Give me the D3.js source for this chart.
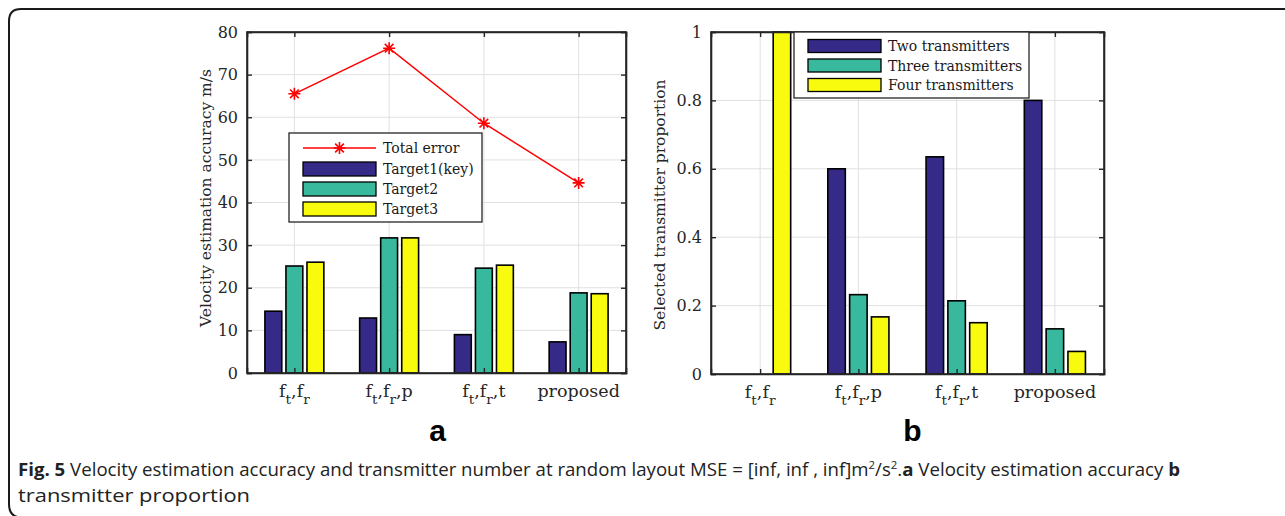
<!DOCTYPE html>
<html>
<head>
<meta charset="utf-8">
<script src="https://d3js.org/d3.v7.min.js"></script>
<style>
  body { margin: 0; background: #fff; }
  svg { display: block; }
</style>
</head>
<body>
<script>
var width = 1285,
    height = 516;

// data
var categories = ["f_t,f_r", "f_t,f_r,p", "f_t,f_r,t", "proposed"];

var target1 = [14.5, 12.9, 9.0, 7.3];
var target2 = [25.1, 31.7, 24.6, 18.8];
var target3 = [26.0, 31.7, 25.3, 18.6];
var totalError = [65.5, 76.2, 58.6, 44.6];

var twoTx = [0, 0.6, 0.635, 0.8];
var threeTx = [0, 0.232, 0.214, 0.132];
var fourTx = [1, 0.167, 0.15, 0.066];

var ticksA = [0, 10, 20, 30, 40, 50, 60, 70, 80];
var ticksB = [0, 0.2, 0.4, 0.6, 0.8, 1];

var namesA = ["Target1(key)", "Target2", "Target3"];
var namesB = ["Two transmitters", "Three transmitters", "Four transmitters"];

var colors = ["#352a87", "#38b99e", "#f9fb0e"];
var serif = "'DejaVu Serif', serif";

var svg = d3.select("body").append("svg")
    .attr("width", width)
    .attr("height", height);

// rounded frame around the figure (bottom edge falls just off the page)
svg.append("path")
    .attr("d", "M1290,9 H21 Q9,9 9,21 V504 Q9,517.5 22,517.5 H1290")
    .attr("fill", "none")
    .attr("stroke", "#1a1a1a")
    .attr("stroke-width", 2);

function texLabel(sel, str) {
  // "f_t" -> f with subscript t
  var parts = [], i = 0;
  while (i < str.length) {
    if (str[i] == "_") { parts.push({t: str[i + 1], sub: true}); i += 2; }
    else { parts.push({t: str[i], sub: false}); i++; }
  }
  var prevSub = false;
  parts.forEach(function(p) {
    var dy = 0;
    if (p.sub && !prevSub) dy = 7;
    if (!p.sub && prevSub) dy = -7;
    sel.append("tspan")
        .attr("dy", dy)
        .attr("font-size", p.sub ? "0.78em" : null)
        .text(p.t);
    prevSub = p.sub;
  });
}

function panel(cfg) {
  var x = d3.scaleLinear().domain([0.5, 4.5]).range([cfg.left, cfg.right]);
  var y = d3.scaleLinear().domain(cfg.domain).range([cfg.bottom, cfg.top]);
  var g = svg.append("g");

  // grid
  g.selectAll(".gy").data(cfg.ticks).enter().append("line")
      .attr("x1", cfg.left).attr("x2", cfg.right)
      .attr("y1", function(d) { return y(d); }).attr("y2", function(d) { return y(d); })
      .attr("stroke", "#e0e0e0").attr("stroke-width", 1);
  g.selectAll(".gx").data(categories).enter().append("line")
      .attr("x1", function(d, i) { return x(i + 1); }).attr("x2", function(d, i) { return x(i + 1); })
      .attr("y1", cfg.top).attr("y2", cfg.bottom)
      .attr("stroke", "#e0e0e0").attr("stroke-width", 1);

  // bars
  var bw = x(1.178) - x(1);
  cfg.series.forEach(function(s, k) {
    var off = (k - 1) * 0.222;
    g.selectAll(".bar" + k).data(s).enter().append("rect")
        .attr("x", function(d, i) { return x(i + 1 + off) - bw / 2; })
        .attr("y", function(d) { return y(d); })
        .attr("width", bw)
        .attr("height", function(d) { return y(0) - y(d); })
        .attr("fill", colors[k])
        .attr("stroke", "#000")
        .attr("stroke-width", 1.6);
  });

  // axes (box, ticks inward)
  var yAxis = d3.axisLeft(y).tickValues(cfg.ticks).tickSize(-5).tickPadding(9)
      .tickFormat(function(d) { return d3.format("~g")(d); });
  var yAxisR = d3.axisRight(y).tickValues(cfg.ticks).tickSize(-5).tickFormat("");
  var xAxis = d3.axisBottom(x).tickValues([1, 2, 3, 4]).tickSize(-5).tickFormat("");
  var xAxisT = d3.axisTop(x).tickValues([1, 2, 3, 4]).tickSize(-5).tickFormat("");

  var ax = g.append("g").attr("transform", "translate(" + cfg.left + ",0)").call(yAxis);
  g.append("g").attr("transform", "translate(" + cfg.right + ",0)").call(yAxisR);
  g.append("g").attr("transform", "translate(0," + cfg.bottom + ")").call(xAxis);
  g.append("g").attr("transform", "translate(0," + cfg.top + ")").call(xAxisT);
  g.selectAll(".domain").attr("stroke", "#262626").attr("stroke-width", 1.6);
  g.selectAll(".tick line").attr("stroke", "#262626").attr("stroke-width", 1.4);
  ax.selectAll("text")
      .attr("font-family", serif).attr("font-size", 16).attr("fill", "#262626");
  g.append("rect")
      .attr("x", cfg.left).attr("y", cfg.top)
      .attr("width", cfg.right - cfg.left).attr("height", cfg.bottom - cfg.top)
      .attr("fill", "none").attr("stroke", "#262626").attr("stroke-width", 1.6);

  // category labels
  categories.forEach(function(c, i) {
    var t = g.append("text")
        .attr("x", x(i + 1)).attr("y", cfg.bottom + 24)
        .attr("text-anchor", "middle")
        .attr("font-family", serif).attr("font-size", 17.5)
        .attr("fill", "#262626");
    texLabel(t, c);
  });

  // y label
  g.append("text")
      .attr("transform", "translate(" + cfg.ylabelX + "," + cfg.ylabelY + ") rotate(-90)")
      .attr("text-anchor", "middle")
      .attr("font-family", serif).attr("font-size", 15.5)
      .attr("fill", "#262626")
      .text(cfg.ylabel);

  // panel letter
  svg.append("text")
      .attr("x", (cfg.left + cfg.right) / 2 + cfg.letterDx).attr("y", 441)
      .attr("text-anchor", "middle")
      .attr("font-family", "'Liberation Sans', Arial, sans-serif")
      .attr("font-weight", "bold").attr("font-size", 30)
      .text(cfg.letter);

  return {x: x, y: y, g: g};
}

// panel a
var pa = panel({
  left: 247, right: 626, top: 32, bottom: 373,
  domain: [0, 80], ticks: ticksA,
  series: [target1, target2, target3],
  ylabel: "Velocity estimation accuracy m/s", ylabelX: 211, ylabelY: 198,
  letter: "a", letterDx: 1
});

var line = d3.line()
    .x(function(d, i) { return pa.x(i + 1); })
    .y(function(d) { return pa.y(d); });

pa.g.append("path")
    .datum(totalError)
    .attr("d", line)
    .attr("fill", "none")
    .attr("stroke", "#ff0000")
    .attr("stroke-width", 1.5);

function star(g, cx, cy) {
  var r = 6, d = r * 0.72;
  g.append("path")
      .attr("d", "M" + (cx - r) + "," + cy + "H" + (cx + r) +
                 "M" + cx + "," + (cy - r) + "V" + (cy + r) +
                 "M" + (cx - d) + "," + (cy - d) + "L" + (cx + d) + "," + (cy + d) +
                 "M" + (cx - d) + "," + (cy + d) + "L" + (cx + d) + "," + (cy - d))
      .attr("stroke", "#ff0000")
      .attr("stroke-width", 1.6)
      .attr("fill", "none");
}

totalError.forEach(function(v, i) { star(pa.g, pa.x(i + 1), pa.y(v)); });

// legend a
var lga = svg.append("g");
lga.append("rect")
    .attr("x", 289).attr("y", 133).attr("width", 193).attr("height", 89)
    .attr("fill", "#fff").attr("stroke", "#262626").attr("stroke-width", 1.3);
lga.append("line")
    .attr("x1", 303).attr("x2", 376).attr("y1", 148).attr("y2", 148)
    .attr("stroke", "#ff0000").attr("stroke-width", 1.5);
star(lga, 339.5, 148);
lga.append("text")
    .attr("x", 383).attr("y", 153)
    .attr("font-family", serif).attr("font-size", 14).attr("fill", "#1a1a1a")
    .text("Total error");
namesA.forEach(function(n, k) {
  var cy = 169 + k * 20;
  lga.append("rect")
      .attr("x", 303).attr("y", cy - 7).attr("width", 73).attr("height", 14)
      .attr("fill", colors[k]).attr("stroke", "#000").attr("stroke-width", 1.3);
  lga.append("text")
      .attr("x", 383).attr("y", cy + 5)
      .attr("font-family", serif).attr("font-size", 14).attr("fill", "#1a1a1a")
      .text(n);
});

// panel b
var pb = panel({
  left: 711, right: 1104, top: 32, bottom: 374,
  domain: [0, 1], ticks: ticksB,
  series: [twoTx, threeTx, fourTx],
  ylabel: "Selected transmitter proportion", ylabelX: 665, ylabelY: 205,
  letter: "b", letterDx: 5
});

var lgb = svg.append("g");
lgb.append("rect")
    .attr("x", 794).attr("y", 32).attr("width", 235).attr("height", 66)
    .attr("fill", "#fff").attr("stroke", "#262626").attr("stroke-width", 1.3);
namesB.forEach(function(n, k) {
  var cy = 46 + k * 19.5;
  lgb.append("rect")
      .attr("x", 808).attr("y", cy - 6.5).attr("width", 73).attr("height", 13)
      .attr("fill", colors[k]).attr("stroke", "#000").attr("stroke-width", 1.3);
  lgb.append("text")
      .attr("x", 888).attr("y", cy + 5)
      .attr("font-family", serif).attr("font-size", 14).attr("fill", "#1a1a1a")
      .text(n);
});

// caption
var cap = svg.append("text")
    .attr("x", 18).attr("y", 476)
    .attr("font-family", "'Open Sans', sans-serif").attr("font-size", 18)
    .attr("textLength", 1162).attr("lengthAdjust", "spacingAndGlyphs")
    .attr("fill", "#222");
cap.append("tspan").attr("font-weight", "bold").text("Fig. 5");
cap.append("tspan").text(" Velocity estimation accuracy and transmitter number at random layout MSE = [inf, inf , inf]m");
cap.append("tspan").attr("dy", -7).attr("font-size", 11).text("2");
cap.append("tspan").attr("dy", 7).text("/s");
cap.append("tspan").attr("dy", -7).attr("font-size", 11).text("2");
cap.append("tspan").attr("dy", 7).text(".");
cap.append("tspan").attr("font-weight", "bold").text("a");
cap.append("tspan").text(" Velocity estimation accuracy ");
cap.append("tspan").attr("font-weight", "bold").text("b");

svg.append("text")
    .attr("x", 18).attr("y", 502)
    .attr("font-family", "'Open Sans', sans-serif").attr("font-size", 18)
    .attr("textLength", 232).attr("lengthAdjust", "spacingAndGlyphs")
    .attr("fill", "#222")
    .text("transmitter proportion");
</script>
</body>
</html>
